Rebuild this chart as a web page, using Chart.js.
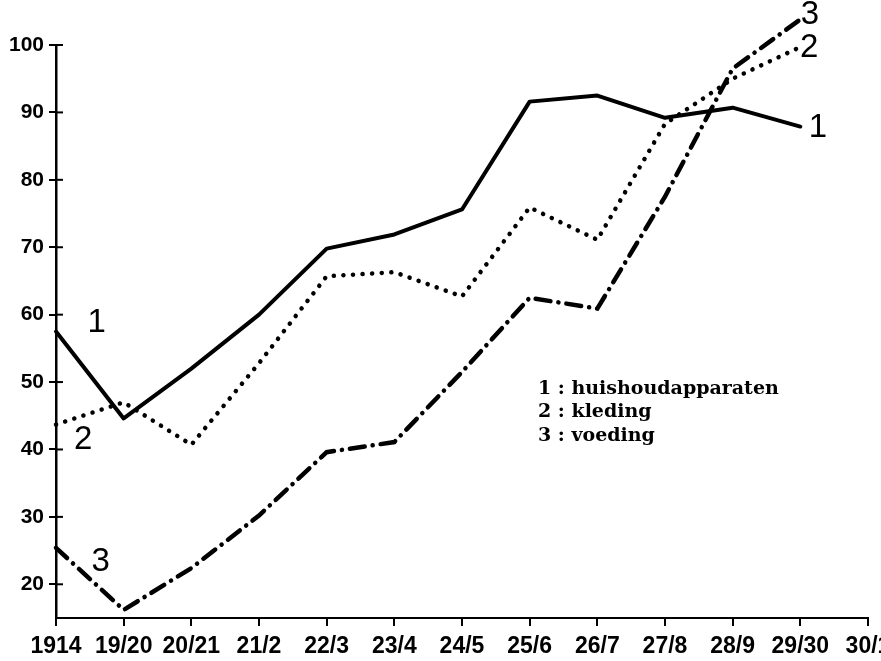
<!DOCTYPE html>
<html>
<head>
<meta charset="utf-8">
<script src="https://cdn.jsdelivr.net/npm/chart.js@4"></script>
<style>
  html, body { margin: 0; padding: 0; background: #fff; }
  #wrap { width: 881px; height: 661px; }
</style>
</head>
<body>
<div id="wrap"><canvas id="c" width="881" height="661"></canvas></div>
<script>
const categories = ['1914','19/20','20/21','21/2','22/3','23/4','24/5','25/6','26/7','27/8','28/9','29/30','30/1'];
const huishoudapparaten = [57.5, 44.6, 52.0, 60.0, 69.8, 71.9, 75.6, 91.6, 92.5, 89.2, 90.7, 87.9, null];
const kleding           = [43.7, 47.0, 40.7, 52.8, 65.7, 66.3, 62.7, 75.9, 71.1, 88.3, 95.0, 99.7, null];
const voeding           = [25.4, 16.2, 22.4, 30.2, 39.6, 41.1, 51.5, 62.5, 60.9, 77.5, 96.5, 103.8, null];
const yTicks = [20, 30, 40, 50, 60, 70, 80, 90, 100];
const legendLines = ['1 : huishoudapparaten', '2 : kleding', '3 : voeding'];
const seriesTags = ['1', '2', '3'];

const extras = {
  id: 'extras',
  afterDatasetsDraw(chart) {
    const ctx = chart.ctx;
    const xs = chart.scales.x, ys = chart.scales.y;
    ctx.save();
    // inner half of the "+" tick marks on the y axis
    ctx.strokeStyle = '#000';
    ctx.lineWidth = 2;
    yTicks.forEach(v => {
      const y = ys.getPixelForValue(v);
      ctx.beginPath();
      ctx.moveTo(xs.left, y);
      ctx.lineTo(xs.left + 7, y);
      ctx.stroke();
    });
    // series numbers near the lines
    ctx.fillStyle = '#000';
    ctx.font = '33px "Liberation Sans", Arial, sans-serif';
    ctx.textAlign = 'center';
    ctx.textBaseline = 'middle';
    const tags = [
      [seriesTags[0], 0.60, 58.8], [seriesTags[1], 0.40, 41.4], [seriesTags[2], 0.66, 23.3],
      [seriesTags[2], 11.14, 104.5], [seriesTags[1], 11.13, 99.6], [seriesTags[0], 11.26, 87.7]
    ];
    tags.forEach(([t, i, v]) => {
      const x = xs.left + (xs.right - xs.left) * i / (categories.length - 1);
      ctx.fillText(t, x, ys.getPixelForValue(v));
    });
    // legend text
    ctx.font = 'bold 19px "DejaVu Serif", "Liberation Serif", serif';
    ctx.textAlign = 'left';
    legendLines.forEach((t, k) => {
      ctx.fillText(t, 538, 389 + k * 23.5);
    });
    ctx.restore();
  }
};

new Chart(document.getElementById('c'), {
  type: 'line',
  data: {
    labels: categories,
    datasets: [
      { label: 'huishoudapparaten', data: huishoudapparaten, borderColor: '#000', borderWidth: 4,
        pointRadius: 0, tension: 0, clip: false, borderCapStyle: 'round', borderJoinStyle: 'round' },
      { label: 'kleding', data: kleding, borderColor: '#000', borderWidth: 4.5,
        borderDash: [0.1, 9.5], borderCapStyle: 'round', pointRadius: 0, tension: 0, clip: false },
      { label: 'voeding', data: voeding, borderColor: '#000', borderWidth: 4.5,
        borderDash: [15, 8, 0.1, 8], borderCapStyle: 'round', pointRadius: 0, tension: 0, clip: false }
    ]
  },
  options: {
    responsive: false,
    animation: false,
    layout: { padding: { top: 45, right: 13, bottom: 0, left: 0 } },
    plugins: { legend: { display: false }, tooltip: { enabled: false } },
    scales: {
      x: {
        type: 'category',
        offset: false,
        afterFit: s => { s.height = 43; s.paddingLeft = 0; s.paddingRight = 0; },
        grid: { display: true, drawOnChartArea: false, drawTicks: true, tickLength: 8, color: '#000', lineWidth: 2 },
        border: { display: true, color: '#000', width: 2 },
        ticks: { color: '#000', padding: 7, maxRotation: 0, autoSkip: false,
                 font: { family: '"Liberation Sans Narrow", "Liberation Sans", Arial, sans-serif', size: 23, weight: 'bold' } }
      },
      y: {
        min: 15, max: 100,
        afterFit: s => { s.width = 56; },
        afterBuildTicks: s => { s.ticks = yTicks.map(v => ({ value: v })); },
        grid: { display: true, drawOnChartArea: false, drawTicks: true, tickLength: 7, color: '#000', lineWidth: 2 },
        border: { display: true, color: '#000', width: 2.5 },
        ticks: { color: '#000', padding: 5, includeBounds: false,
                 font: { family: '"Liberation Sans", Arial, sans-serif', size: 21, weight: 'bold' } }
      }
    }
  },
  plugins: [extras]
});
</script>
</body>
</html>
